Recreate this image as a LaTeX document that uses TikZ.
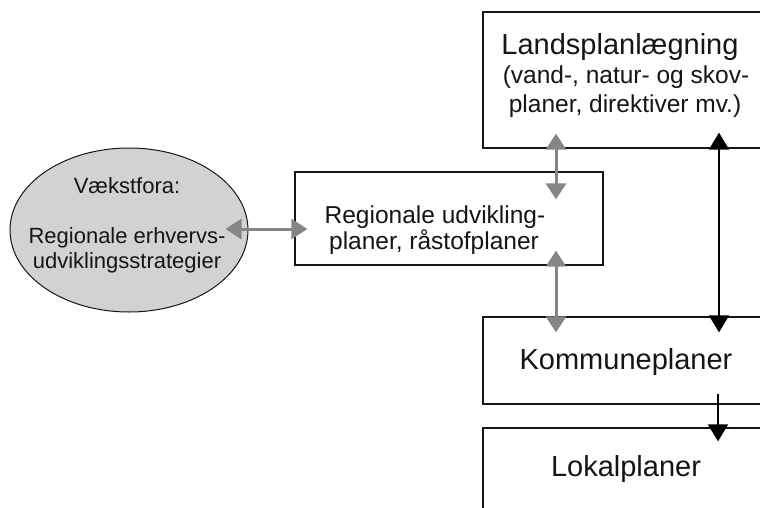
\documentclass[tikz,border=0pt]{standalone}
\usepackage{fontspec}
\setmainfont{Liberation Sans}
\usetikzlibrary{arrows.meta,shapes.geometric}
\definecolor{arrgray}{HTML}{858585}
\definecolor{ellfill}{HTML}{D2D2D2}
\definecolor{ink}{HTML}{151515}
\begin{document}
\begin{tikzpicture}[x=1pt,y=-1pt,
  box/.style={draw=ink, line width=1.3pt, rectangle, inner sep=0pt, fill=white},
  txt/.style={anchor=base, inner sep=0pt, text=ink},
  big/.style={font=\fontsize{29}{34}\selectfont},
  mid/.style={font=\fontsize{24.5}{28}\selectfont},
  sml/.style={font=\fontsize{22}{26}\selectfont},
  garrow/.style={color=arrgray, line width=3pt, {Triangle[length=16pt,width=20pt]}-{Triangle[length=16pt,width=20pt]}},
  karrow/.style={color=black, line width=2pt}]
\useasboundingbox (0,0) rectangle (760,508);
\clip (0,0) rectangle (760,508);
% boxes
\node[box, minimum width=286pt, minimum height=136pt] (land) at (626,80) {};
\node[box, minimum width=308pt, minimum height=93pt] (reg) at (449,218.5) {};
\node[box, minimum width=286pt, minimum height=87pt] (komm) at (626,360.5) {};
\node[box, minimum width=286pt, minimum height=100pt] (lok) at (626,478) {};
\node[ellipse, draw=ink, line width=1pt, fill=ellfill, minimum width=238pt, minimum height=164pt, inner sep=0pt] (ell) at (129,230) {};
% texts
\node[txt, big] (landt1) at (620,55) {Landsplanlægning};
\node[txt, mid] (landt2) at (626,84) {(vand-, natur- og skov-};
\node[txt, mid] (landt3) at (625,113) {planer, direktiver mv.)};
\node[txt, mid] (regt1) at (435,223) {Regionale udvikling-};
\node[txt, mid] (regt2) at (434,249) {planer, råstofplaner};
\node[txt, sml] (ellt1) at (127,193) {Vækstfora:};
\node[txt, sml] (ellt2) at (127,243) {Regionale erhvervs-};
\node[txt, sml] (ellt3) at (127,268) {udviklingsstrategier};
\node[txt, big] (kommt) at (626,369) {Kommuneplaner};
\node[txt, big] (lokt) at (626,476) {Lokalplaner};
% connectors
\draw[garrow, shorten <=-23pt, shorten >=-13pt] ([yshift=1pt]ell.east) -- ([yshift=-10.5pt]reg.west);
\draw[garrow, shorten <=-15pt, shorten >=-28pt] ([xshift=-70pt]land.south) -- ([xshift=107pt]reg.north);
\draw[garrow, shorten <=-15pt, shorten >=-16pt] ([xshift=107pt]reg.south) -- ([xshift=-70pt]komm.north);
\draw[karrow, {Triangle[length=17pt,width=20pt]}-{Triangle[length=17pt,width=20pt]}, shorten <=-16pt, shorten >=-16pt] ([xshift=93pt]land.south) -- ([xshift=93pt]komm.north);
\draw[karrow, -{Triangle[length=17pt,width=20pt]}, shorten <=-11pt, shorten >=-14pt] ([xshift=92pt]komm.south) -- ([xshift=92pt]lok.north);
\end{tikzpicture}
\end{document}
